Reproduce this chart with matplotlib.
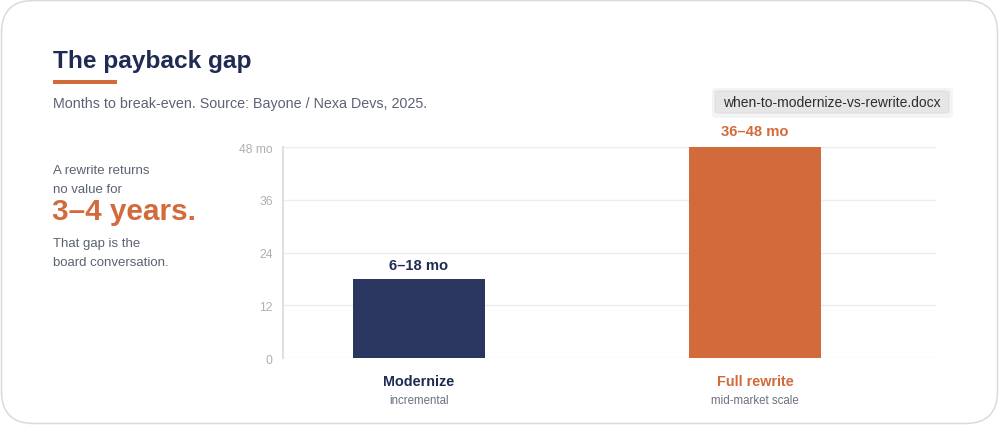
import matplotlib
matplotlib.use("Agg")
import matplotlib.pyplot as plt
from matplotlib.patches import FancyBboxPatch

plt.rcParams['font.family'] = ['Liberation Sans', 'DejaVu Sans']

# ---- data ----
categories = ["Modernize", "Full rewrite"]
subtitles = ["incremental", "mid-market scale"]
values = [18, 48]
value_labels = ["6–18 mo", "36–48 mo"]
yticks = [0, 12, 24, 36, 48]
ytick_labels = ["0", "12", "24", "36", "48 mo"]

NAVY = "#2a3560"
TITLE_NAVY = "#1f2b52"
ORANGE = "#d36a3b"
GRAY_TXT = "#5b6272"
colors = [NAVY, ORANGE]
label_colors = [TITLE_NAVY, ORANGE]

W, H = 1000, 427
fig = plt.figure(figsize=(W / 100, H / 100), dpi=100)
fig.patch.set_facecolor("white")

def fx(x):
    return x / W

def fy(y):
    return 1 - y / H

# card border
card = FancyBboxPatch((fx(1.5), fy(424.5)), fx(996), 423 / H,
                      boxstyle="round,pad=0,rounding_size=0.032",
                      transform=fig.transFigure, facecolor="none",
                      edgecolor="#dadada", linewidth=1.1, zorder=0,
                      mutation_aspect=W / H)
fig.patches.append(card)

# title and underline
fig.text(fx(53), fy(62), "The payback gap", fontsize=17.6, fontweight="bold",
         color=TITLE_NAVY, va="center", ha="left")
fig.patches.append(plt.Rectangle((fx(53), fy(85)), fx(64), 4 / H,
                                 transform=fig.transFigure, color=ORANGE, lw=0))
fig.text(fx(53), fy(104), "Months to break-even. Source: Bayone / Nexa Devs, 2025.",
         fontsize=10.3, color=GRAY_TXT, va="center", ha="left")

# left callout text
fig.text(fx(53), fy(171), "A rewrite returns", fontsize=9.5, color=GRAY_TXT, va="center")
fig.text(fx(53), fy(190), "no value for", fontsize=9.5, color=GRAY_TXT, va="center")
fig.text(fx(52.5), fy(212), "3–4 years.", fontsize=21.4, fontweight="bold",
         color=ORANGE, va="center")
fig.text(fx(53), fy(244), "That gap is the", fontsize=9.5, color=GRAY_TXT, va="center")
fig.text(fx(53), fy(263), "board conversation.", fontsize=9.5, color=GRAY_TXT, va="center")

# tooltip
shadow = FancyBboxPatch((fx(712), fy(119)), fx(241), 30 / H,
                        boxstyle="round,pad=0,rounding_size=0.005",
                        transform=fig.transFigure, facecolor="#f4f4f4",
                        edgecolor="none", zorder=1)
fig.patches.append(shadow)
tip = FancyBboxPatch((fx(715), fy(114)), fx(234), 22 / H,
                     boxstyle="round,pad=0,rounding_size=0.004",
                     transform=fig.transFigure, facecolor="#e6e6e6",
                     edgecolor="#dcdcdc", linewidth=0.6, zorder=2)
fig.patches.append(tip)
fig.text(fx(832), fy(103.5), "when-to-modernize-vs-rewrite.docx", fontsize=10,
         color="#2e2e2e", va="center", ha="center", zorder=3)

# axes
ax = fig.add_axes([fx(283), fy(359), fx(653), 211 / H])
ax.set_facecolor("none")
x = list(range(len(categories)))
ax.bar(x, values, width=0.393, color=colors, zorder=3)
ax.set_xlim(-0.405, 1.539)
ax.set_ylim(0, 48)
ax.set_yticks(yticks)
ax.set_yticklabels(ytick_labels)
ax.tick_params(axis="y", length=0, pad=7.5, labelsize=8.7, labelcolor="#b0b0b0")
ax.set_xticks([])
ax.grid(axis="y", color="#ededed", linewidth=1, zorder=0)
for s in ["top", "right", "bottom"]:
    ax.spines[s].set_visible(False)
ax.spines["left"].set_color("#e0e0e0")
ax.spines["left"].set_linewidth(1.5)

for i, (v, lab) in enumerate(zip(values, value_labels)):
    ax.annotate(lab, xy=(i, v), xytext=(0, 10 if i == 0 else 11.2),
                textcoords="offset points", ha="center", va="center",
                fontsize=10.6, fontweight="bold", color=label_colors[i],
                annotation_clip=False)
    ax.annotate(categories[i], xy=(i, 0), xytext=(0, -16.6),
                textcoords="offset points", ha="center", va="center",
                fontsize=10.4, fontweight="bold", color=label_colors[i],
                annotation_clip=False)
    ax.annotate(subtitles[i], xy=(i, 0), xytext=(0, -30.3),
                textcoords="offset points", ha="center", va="center",
                fontsize=8.3, color="#6b7180", annotation_clip=False)

fig.savefig("out.png", dpi=100, facecolor="white")
